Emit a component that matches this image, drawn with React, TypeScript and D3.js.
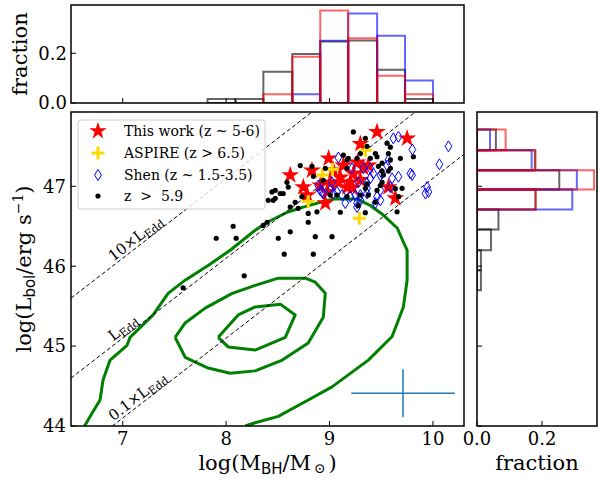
import React from "react";
import * as d3 from "d3";

// ---------- data ----------
const xTicks = [7, 8, 9, 10];
const yTicks = [44, 45, 46, 47];
const topHistTicks = [0.0, 0.2];
const rightHistTicks = [0.0, 0.2];

// this work (z ~ 5-6): [logM, logL]
const thisWork: [number, number][] = [
  [9.459, 47.68], [9.75, 47.6], [9.298, 47.53], [8.991, 47.35], [8.83, 47.2],
  [8.62, 47.14], [9.036, 47.2], [9.133, 47.26], [9.23, 47.16], [9.327, 47.23],
  [9.375, 47.26], [9.104, 47.11], [9.201, 47.05], [9.298, 47.08], [8.746, 46.99],
  [8.91, 47.01], [9.007, 47.05], [8.978, 46.93], [9.172, 46.99], [9.22, 46.98],
  [8.785, 46.89], [8.959, 46.79], [9.569, 46.99], [9.636, 46.85], [9.085, 47.05],
  [9.269, 47.3],
];

const aspire: [number, number][] = [
  [9.346, 47.45], [9.027, 47.21], [8.93, 47.14], [8.794, 46.81], [9.288, 46.6],
];

const shen: [number, number][] = [
  [9.617, 47.6], [9.666, 47.62], [9.801, 47.46], [10.15, 47.5], [10.062, 47.275],
  [9.798, 47.14], [9.085, 47.36], [9.569, 47.33], [9.556, 47.26], [9.508, 47.16],
  [9.424, 47.16], [9.666, 47.12], [9.605, 47.1], [9.588, 46.99], [9.491, 46.95],
  [9.459, 46.87], [9.443, 46.79], [9.362, 46.91], [9.298, 46.89], [9.266, 46.79],
  [9.266, 46.74], [9.201, 46.87], [9.152, 46.79], [9.072, 46.93], [9.007, 46.95],
  [8.927, 46.93], [9.927, 46.91], [9.956, 46.93], [9.943, 46.99], [9.278, 47.05],
  [9.362, 47.04], [9.394, 47.225], [9.327, 47.225], [9.217, 47.225], [9.782, 47.16],
  [9.491, 47.14], [9.394, 47.1], [9.362, 46.975], [9.491, 46.825], [8.891, 47.01],
  [9.024, 47.05], [8.939, 46.91], [9.036, 46.91], [9.121, 46.89], [9.249, 46.89],
  [9.298, 46.825], [8.91, 46.95],
];

const highZ: [number, number][] = [
  [9.23, 47.68], [9.346, 47.6], [9.556, 47.54], [9.588, 47.49], [9.443, 47.41],
  [9.459, 47.37], [9.569, 47.41], [9.685, 47.35], [9.811, 47.37], [9.588, 47.33],
  [9.508, 47.29], [9.472, 47.25], [9.588, 47.225], [9.508, 47.19], [9.569, 47.19],
  [9.394, 47.35], [9.182, 47.35], [9.266, 47.35], [9.133, 47.39], [9.298, 47.41],
  [9.362, 47.5], [9.169, 47.33], [8.717, 47.26], [8.83, 47.25], [9.169, 47.225],
  [9.52, 47.14], [9.508, 47.05], [9.459, 46.95], [9.701, 46.975], [9.666, 46.87],
  [9.653, 46.68], [9.362, 47.03], [9.346, 46.975], [9.491, 47.01], [9.636, 46.97],
  [9.375, 46.89], [9.443, 46.8], [9.346, 46.67], [9.298, 46.89], [9.278, 46.76],
  [9.104, 46.675], [8.794, 46.55], [8.62, 46.43], [8.504, 46.35], [8.862, 46.37],
  [9.024, 46.37], [8.588, 47.05], [8.523, 46.91], [8.443, 46.93], [8.407, 46.825],
  [8.455, 46.825], [8.359, 46.51], [8.397, 46.55], [8.697, 46.725], [8.62, 46.74],
  [8.733, 46.87], [9.007, 46.89], [9.072, 46.89], [9.169, 46.87], [8.939, 47.075],
  [8.959, 47.225], [8.601, 46.99], [8.552, 46.91], [8.475, 46.85], [8.668, 46.8],
  [8.794, 46.66], [8.878, 46.68], [8.843, 46.15], [8.562, 46.15], [7.904, 46.35],
  [8.097, 46.35], [8.068, 46.5], [8.175, 45.88], [7.584, 45.73], [8.843, 47.125],
  [8.475, 46.95],
];

// low-z density contours
const contourOuter: [number, number][] = [
  [6.626, 44.0], [6.636, 44.01], [6.703, 44.16], [6.781, 44.325], [6.81, 44.575],
  [6.878, 44.825], [7.042, 45.01], [7.071, 45.11], [7.294, 45.39], [7.439, 45.66],
  [7.604, 45.825], [7.826, 46.01], [8.039, 46.2], [8.281, 46.45], [8.397, 46.55],
  [8.591, 46.675], [8.746, 46.74], [8.91, 46.8], [9.036, 46.84], [9.269, 46.84],
  [9.394, 46.76], [9.52, 46.64], [9.656, 46.475], [9.714, 46.3], [9.75, 46.2],
  [9.75, 45.825], [9.714, 45.49], [9.605, 45.12], [9.375, 44.825], [9.024, 44.49],
  [8.794, 44.325], [8.504, 44.12], [8.281, 44.04], [8.184, 44.0],
];
const contourMiddle: [number, number][] = [
  [7.507, 45.11], [7.604, 44.86], [7.826, 44.725], [8.039, 44.66], [8.281, 44.69],
  [8.543, 44.825], [8.794, 45.04], [8.939, 45.36], [8.959, 45.66], [8.862, 45.8],
  [8.765, 45.85], [8.504, 45.85], [8.281, 45.76], [8.059, 45.66], [7.797, 45.475],
  [7.604, 45.29], [7.507, 45.11],
];
const contourInner: [number, number][] = [
  [7.923, 45.11], [8.02, 44.99], [8.281, 44.95], [8.572, 45.11], [8.668, 45.39],
  [8.523, 45.525], [8.281, 45.49], [8.117, 45.39], [7.923, 45.11],
];

// Eddington ratio lines: log L = log M + 38.1 + offset
const eddOffsets = [1, 0, -1];
const eddLabelX = [7.17, 7.05, 7.19];
const eddLabelPrefix = ["10\u00d7L", "L", "0.1\u00d7L"];

// typical error bar
const errCenter: [number, number] = [9.71, 44.41];
const errX = 0.5;
const errY = 0.3;

// top histogram (log M_BH)
const topEdges = [7.82, 8.09, 8.36, 8.64, 8.91, 9.18, 9.46, 9.73, 10.0];
const topBlack = [0.016, 0.016, 0.126, 0.197, 0.247, 0.251, 0.134, 0.016];
const topBlue = [0, 0, 0, 0.035, 0.25, 0.36, 0.27, 0.09];
const topRed = [0, 0, 0.035, 0.186, 0.372, 0.26, 0.11, 0.035];

// right histogram (log L_bol)
const rightEdges = [45.7, 45.95, 46.2, 46.46, 46.71, 46.96, 47.2, 47.45, 47.71];
const rightBlack = [0.012, 0.012, 0.043, 0.066, 0.18, 0.253, 0.178, 0.058];
const rightBlue = [0, 0, 0, 0, 0.293, 0.307, 0.168, 0.04];
const rightRed = [0, 0, 0, 0, 0.18, 0.36, 0.18, 0.088];

// ---------- layout ----------
const W = 598, H = 478;
const M = { l: 71, r: 464, t: 112, b: 426 };
const T = { t: 5, b: 103 };
const R = { l: 477, r: 597 };
const TICK = 5;
const FONT = "DejaVu Serif";
const SANS = "DejaVu Sans";

export default function App() {
  const xs = d3.scaleLinear().domain([6.5, 10.3]).range([M.l, M.r]);
  const ys = d3.scaleLinear().domain([44, 47.93]).range([M.b, M.t]);
  const topY = d3.scaleLinear().domain([0, 0.394]).range([T.b, T.t]);
  const rightX = d3.scaleLinear().domain([0, 0.369]).range([R.l, R.r]);

  const line = d3
    .line<[number, number]>()
    .x((d) => xs(d[0]))
    .y((d) => ys(d[1]));

  const star = d3.symbol().type(d3.symbolStar).size(100)()!;
  const starLegend = d3.symbol().type(d3.symbolStar).size(95)()!;
  const diamond = "M0,-5.5L3.4,0L0,5.5L-3.4,0Z";
  const plus = "M-6.5,0H6.5M0,-6.5V6.5";

  const angle =
    (Math.atan2(ys(45) - ys(44), xs(8) - xs(7)) * 180) / Math.PI;

  const topBar = (vals: number[], color: string) =>
    vals.map((v, i) => {
      const x0 = xs(topEdges[i]);
      const x1 = xs(topEdges[i + 1]);
      const y0 = topY(0);
      const y1 = topY(v);
      return (
        <path
          key={color + i}
          d={`M${x0},${y0}V${y1}H${x1}V${y0}Z`}
          fill="none"
          stroke={color}
          strokeOpacity={0.6}
          strokeWidth={2}
        />
      );
    });

  const rightBar = (vals: number[], color: string) =>
    vals.map((v, i) => {
      const y0 = ys(rightEdges[i]);
      const y1 = ys(rightEdges[i + 1]);
      const x0 = rightX(0);
      const x1 = rightX(v);
      return (
        <path
          key={color + i}
          d={`M${x0},${y0}H${x1}V${y1}H${x0}Z`}
          fill="none"
          stroke={color}
          strokeOpacity={0.6}
          strokeWidth={2}
        />
      );
    });

  return (
    <svg
      width={W}
      height={H}
      style={{ position: "absolute", left: 0, top: 0, background: "#fff" }}
      fontFamily={FONT}
    >
      <defs>
        <clipPath id="mainClip">
          <rect x={M.l} y={M.t} width={M.r - M.l} height={M.b - M.t} />
        </clipPath>
        <clipPath id="topClip">
          <rect x={M.l} y={T.t} width={M.r - M.l} height={T.b - T.t} />
        </clipPath>
        <clipPath id="rightClip">
          <rect x={R.l} y={M.t} width={R.r - R.l} height={M.b - M.t} />
        </clipPath>
      </defs>
      <rect x={0} y={0} width={W} height={H} fill="#fff" />

      {/* ---------- top histogram ---------- */}
      <g clipPath="url(#topClip)">
        {topBar(topBlack, "#000")}
        {topBar(topBlue, "#0000ff")}
        {topBar(topRed, "#ff0000")}
      </g>
      <rect x={M.l} y={T.t} width={M.r - M.l} height={T.b - T.t} fill="none" stroke="#000" strokeWidth={1.5} />
      {xTicks.map((t) => (
        <line key={"tx" + t} x1={xs(t)} x2={xs(t)} y1={T.b} y2={T.b - TICK} stroke="#000" strokeWidth={1} />
      ))}
      {topHistTicks.map((t) => (
        <g key={"ty" + t}>
          <line x1={M.l} x2={M.l + TICK} y1={topY(t)} y2={topY(t)} stroke="#000" strokeWidth={1} />
          <text x={M.l - 4} y={topY(t)} dy="0.35em" textAnchor="end" fontSize={18}>
            {t.toFixed(1)}
          </text>
        </g>
      ))}
      <text transform={`translate(27,${(T.t + T.b) / 2}) rotate(-90)`} textAnchor="middle" fontSize={21}>
        fraction
      </text>

      {/* ---------- right histogram ---------- */}
      <g clipPath="url(#rightClip)">
        {rightBar(rightBlack, "#000")}
        {rightBar(rightBlue, "#0000ff")}
        {rightBar(rightRed, "#ff0000")}
      </g>
      <rect x={R.l} y={M.t} width={R.r - R.l} height={M.b - M.t} fill="none" stroke="#000" strokeWidth={1.5} />
      {yTicks.map((t) => (
        <line key={"ry" + t} x1={R.l} x2={R.l + TICK} y1={ys(t)} y2={ys(t)} stroke="#000" strokeWidth={1} />
      ))}
      {rightHistTicks.map((t) => (
        <g key={"rx" + t}>
          <line x1={rightX(t)} x2={rightX(t)} y1={M.b} y2={M.b - TICK} stroke="#000" strokeWidth={1} />
          <text x={rightX(t)} y={445} textAnchor="middle" fontSize={18}>
            {t.toFixed(1)}
          </text>
        </g>
      ))}
      <text x={(R.l + R.r) / 2} y={470} textAnchor="middle" fontSize={21}>
        fraction
      </text>

      {/* ---------- main panel ---------- */}
      <g clipPath="url(#mainClip)">
        {[contourOuter, contourMiddle, contourInner].map((c, i) => (
          <path key={"c" + i} d={line(c)!} fill="none" stroke="#008000" strokeWidth={3} strokeLinejoin="round" />
        ))}
        {eddOffsets.map((o) => (
          <line
            key={"edd" + o}
            x1={xs(6.5)}
            y1={ys(6.5 + 38.1 + o)}
            x2={xs(10.3)}
            y2={ys(10.3 + 38.1 + o)}
            stroke="#000"
            strokeWidth={1}
            strokeDasharray="4,2.5"
          />
        ))}
        {eddOffsets.map((o, i) => {
          const lx = eddLabelX[i];
          return (
            <text
              key={"el" + o}
              transform={`translate(${xs(lx)},${ys(lx + 38.1 + o)}) rotate(${angle})`}
              textAnchor="middle"
              dy={-3}
              fontSize={15}
            >
              {eddLabelPrefix[i]}
              <tspan fontSize={11} dy={3}>Edd</tspan>
            </text>
          );
        })}
        {/* error bar */}
        <line x1={xs(errCenter[0] - errX)} x2={xs(errCenter[0] + errX)} y1={ys(errCenter[1])} y2={ys(errCenter[1])} stroke="#1f77b4" strokeWidth={1.5} />
        <line x1={xs(errCenter[0])} x2={xs(errCenter[0])} y1={ys(errCenter[1] - errY)} y2={ys(errCenter[1] + errY)} stroke="#1f77b4" strokeWidth={1.5} />

        {thisWork.map((d, i) => (
          <path key={"s" + i} d={star} transform={`translate(${xs(d[0])},${ys(d[1])})`} fill="#ff0000" />
        ))}
        {aspire.map((d, i) => (
          <path key={"a" + i} d={plus} transform={`translate(${xs(d[0])},${ys(d[1])})`} stroke="#ffd700" strokeWidth={3} fill="none" />
        ))}
        {shen.map((d, i) => (
          <path key={"b" + i} d={diamond} transform={`translate(${xs(d[0])},${ys(d[1])})`} stroke="#0000ff" strokeWidth={1} fill="none" />
        ))}
        {highZ.map((d, i) => (
          <circle key={"k" + i} cx={xs(d[0])} cy={ys(d[1])} r={2.6} fill="#000" />
        ))}
      </g>

      {/* legend */}
      <g>
        <rect x={78} y={120} width={187} height={89} rx={3} fill="#fff" fillOpacity={0.8} stroke="#cccccc" strokeWidth={1} />
        <path d={starLegend} transform="translate(98,131)" fill="#ff0000" />
        <path d={plus} transform="translate(98,153)" stroke="#ffd700" strokeWidth={3} fill="none" />
        <path d={diamond} transform="translate(98,175)" stroke="#0000ff" strokeWidth={1} fill="none" />
        <circle cx={98} cy={196} r={2.6} fill="#000" />
        <text x={124} y={136} fontSize={14}>This work (z ~ 5-6)</text>
        <text x={124} y={158} fontSize={14}>ASPIRE (z &gt; 6.5)</text>
        <text x={124} y={180} fontSize={14}>Shen (z ~ 1.5-3.5)</text>
        <text x={124} y={201} fontSize={14} style={{ whiteSpace: "pre" }}>{"z  >  5.9"}</text>
      </g>

      <rect x={M.l} y={M.t} width={M.r - M.l} height={M.b - M.t} fill="none" stroke="#000" strokeWidth={1.5} />
      {xTicks.map((t) => (
        <g key={"mx" + t}>
          <line x1={xs(t)} x2={xs(t)} y1={M.b} y2={M.b - TICK} stroke="#000" strokeWidth={1} />
          <text x={xs(t)} y={445} textAnchor="middle" fontSize={18}>
            {t}
          </text>
        </g>
      ))}
      {yTicks.map((t) => (
        <g key={"my" + t}>
          <line x1={M.l} x2={M.l + TICK} y1={ys(t)} y2={ys(t)} stroke="#000" strokeWidth={1} />
          <text x={M.l - 5} y={ys(t)} dy="0.35em" textAnchor="end" fontSize={18}>
            {t}
          </text>
        </g>
      ))}

      {/* axis labels */}
      <text x={(M.l + M.r) / 2} y={470} textAnchor="middle" fontSize={21}>
        log(M
        <tspan fontFamily={SANS} fontSize={15} dy={4}>BH</tspan>
        <tspan dy={-4}>/M</tspan>
        <tspan fontSize={14} dy={3}>{"\u2009\u2299\u2009"}</tspan>
        <tspan dy={-3}>)</tspan>
      </text>
      <text transform={`translate(31,${(M.t + M.b) / 2}) rotate(-90)`} textAnchor="middle" fontSize={21}>
        log(L
        <tspan fontFamily={SANS} fontSize={15} dy={4}>bol</tspan>
        <tspan dy={-4}>/erg s</tspan>
        <tspan fontSize={14} dy={-8}>{"\u22121"}</tspan>
        <tspan dy={8}>)</tspan>
      </text>
    </svg>
  );
}
